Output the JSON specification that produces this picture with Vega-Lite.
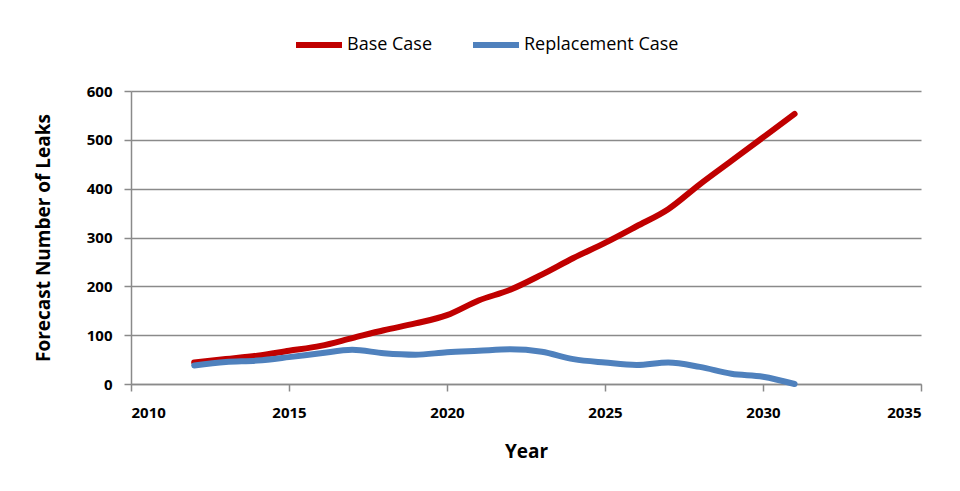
{
  "$schema": "https://vega.github.io/schema/vega-lite/v6.json",
  "width": 790,
  "height": 293,
  "autosize": "none",
  "padding": {"left": 131, "top": 91, "right": 39, "bottom": 107},
  "background": "white",
  "config": {
    "view": {"stroke": null},
    "font": "Open Sans"
  },
  "data": {
    "values": [
      {"year": 2012, "series": "Base Case", "leaks": 44},
      {"year": 2013, "series": "Base Case", "leaks": 51},
      {"year": 2014, "series": "Base Case", "leaks": 58},
      {"year": 2015, "series": "Base Case", "leaks": 68},
      {"year": 2016, "series": "Base Case", "leaks": 78},
      {"year": 2017, "series": "Base Case", "leaks": 94},
      {"year": 2018, "series": "Base Case", "leaks": 110},
      {"year": 2019, "series": "Base Case", "leaks": 124},
      {"year": 2020, "series": "Base Case", "leaks": 141},
      {"year": 2021, "series": "Base Case", "leaks": 171},
      {"year": 2022, "series": "Base Case", "leaks": 193},
      {"year": 2023, "series": "Base Case", "leaks": 224},
      {"year": 2024, "series": "Base Case", "leaks": 258},
      {"year": 2025, "series": "Base Case", "leaks": 289},
      {"year": 2026, "series": "Base Case", "leaks": 323},
      {"year": 2027, "series": "Base Case", "leaks": 358},
      {"year": 2028, "series": "Base Case", "leaks": 409},
      {"year": 2029, "series": "Base Case", "leaks": 457},
      {"year": 2030, "series": "Base Case", "leaks": 505},
      {"year": 2031, "series": "Base Case", "leaks": 553},
      {"year": 2012, "series": "Replacement Case", "leaks": 38},
      {"year": 2013, "series": "Replacement Case", "leaks": 45},
      {"year": 2014, "series": "Replacement Case", "leaks": 48},
      {"year": 2015, "series": "Replacement Case", "leaks": 55},
      {"year": 2016, "series": "Replacement Case", "leaks": 63},
      {"year": 2017, "series": "Replacement Case", "leaks": 70},
      {"year": 2018, "series": "Replacement Case", "leaks": 63},
      {"year": 2019, "series": "Replacement Case", "leaks": 60},
      {"year": 2020, "series": "Replacement Case", "leaks": 65},
      {"year": 2021, "series": "Replacement Case", "leaks": 68},
      {"year": 2022, "series": "Replacement Case", "leaks": 71},
      {"year": 2023, "series": "Replacement Case", "leaks": 66},
      {"year": 2024, "series": "Replacement Case", "leaks": 51},
      {"year": 2025, "series": "Replacement Case", "leaks": 44},
      {"year": 2026, "series": "Replacement Case", "leaks": 39},
      {"year": 2027, "series": "Replacement Case", "leaks": 44},
      {"year": 2028, "series": "Replacement Case", "leaks": 35},
      {"year": 2029, "series": "Replacement Case", "leaks": 21},
      {"year": 2030, "series": "Replacement Case", "leaks": 15},
      {"year": 2031, "series": "Replacement Case", "leaks": 0}
    ]
  },
  "mark": {"type": "line", "strokeWidth": 6, "interpolate": "monotone", "strokeCap": "round"},
  "encoding": {
    "x": {
      "field": "year",
      "type": "quantitative",
      "scale": {"domain": [2010, 2035], "nice": false, "zero": false},
      "axis": {
        "title": "Year",
        "values": [2010, 2015, 2020, 2025, 2030, 2035],
        "format": "d",
        "grid": false,
        "domainColor": "#8a8a8a",
        "domainWidth": 1.5,
        "tickColor": "#8a8a8a",
        "tickWidth": 1.5,
        "tickSize": 7,
        "labelFont": "Open Sans",
        "labelFontWeight": "bold",
        "labelFontSize": 15,
        "labelColor": "black",
        "labelPadding": 14,
        "titleFont": "Open Sans",
        "titleFontWeight": "bold",
        "titleFontSize": 19,
        "titleColor": "black",
        "titlePadding": 22
      }
    },
    "y": {
      "field": "leaks",
      "type": "quantitative",
      "scale": {"domain": [0, 600], "nice": false},
      "axis": {
        "title": "Forecast Number of Leaks",
        "values": [0, 100, 200, 300, 400, 500, 600],
        "grid": true,
        "gridColor": "#8a8a8a",
        "gridWidth": 1.5,
        "domainColor": "#8a8a8a",
        "domainWidth": 1.5,
        "tickColor": "#8a8a8a",
        "tickWidth": 1.5,
        "tickSize": 7,
        "labelFont": "Open Sans",
        "labelFontWeight": "bold",
        "labelFontSize": 15,
        "labelColor": "black",
        "labelPadding": 12,
        "titleFont": "Open Sans",
        "titleFontWeight": "bold",
        "titleFontSize": 19,
        "titleColor": "black",
        "titlePadding": 33
      }
    },
    "color": {
      "field": "series",
      "type": "nominal",
      "scale": {"domain": ["Base Case", "Replacement Case"], "range": ["#C00000", "#4F81BD"]},
      "legend": {
        "title": null,
        "orient": "none",
        "direction": "horizontal",
        "legendX": 162,
        "legendY": -72,
        "symbolType": "stroke",
        "symbolSize": 2116,
        "symbolStrokeWidth": 6,
        "labelFont": "Open Sans",
        "labelFontSize": 18,
        "labelColor": "black",
        "labelOffset": 2,
        "columnPadding": 28
      }
    }
  }
}
